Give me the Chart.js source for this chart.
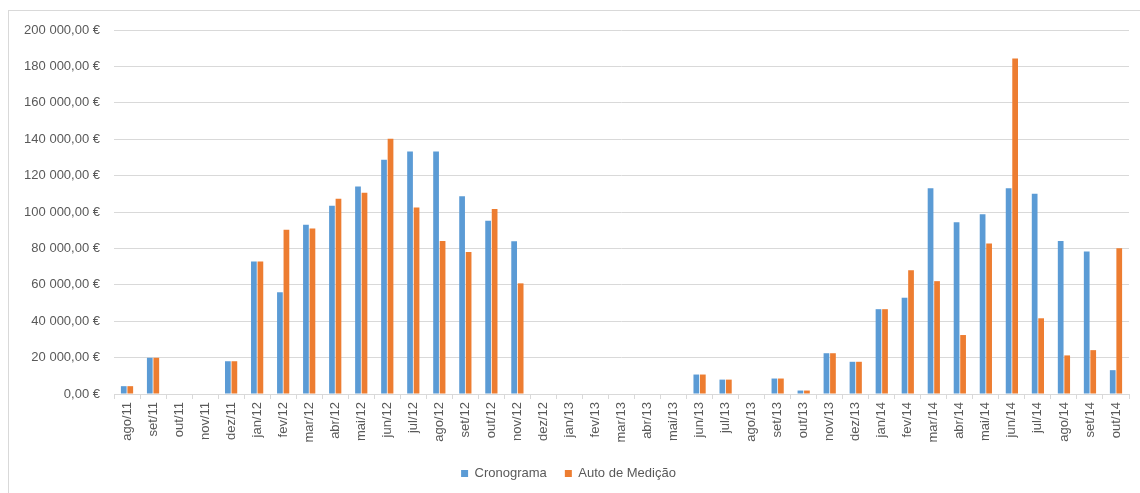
<!DOCTYPE html>
<html>
<head>
<meta charset="utf-8">
<script src="https://cdn.jsdelivr.net/npm/chart.js@4/dist/chart.umd.min.js"></script>
<style>
  html,body{margin:0;padding:0;background:#fff;overflow:hidden}
  #frame{position:absolute;left:8px;top:10px;width:1200px;height:600px;border:1px solid #d9d9d9;box-sizing:border-box}
  #wrap{position:absolute;left:0;top:0;width:1140px;height:493px}
</style>
</head>
<body>
<div id="frame"></div>
<div id="wrap"><canvas id="c" width="1140" height="493"></canvas></div>
<script>
// months ago/11 .. out/14
const months=["ago/11","set/11","out/11","nov/11","dez/11",
  "jan/12","fev/12","mar/12","abr/12","mai/12","jun/12","jul/12","ago/12","set/12","out/12","nov/12","dez/12",
  "jan/13","fev/13","mar/13","abr/13","mai/13","jun/13","jul/13","ago/13","set/13","out/13","nov/13","dez/13",
  "jan/14","fev/14","mar/14","abr/14","mai/14","jun/14","jul/14","ago/14","set/14","out/14"];
const cronograma=[4300,19900,0,0,18000,
  72800,55900,93000,103400,114000,128700,133300,133300,108700,95200,83900,0,
  0,0,0,0,0,10700,7900,0,8500,1900,22400,17700,
  46600,52900,113100,94400,98700,113100,110000,84100,78300,13100];
const autoMedicao=[4300,19900,0,0,18000,
  72800,90200,90900,107300,110600,140300,102500,84100,78000,101600,60800,0,
  0,0,0,0,0,10700,7900,0,8500,1900,22400,17700,
  46600,68000,62000,32400,82700,184300,41600,21200,24100,80100];
const yTicks=[0,20000,40000,60000,80000,100000,120000,140000,160000,180000,200000];

const BLUE="#5B9BD5", ORANGE="#ED7D31", TXT="#595959", GRID="#d9d9d9";
const FONT="'Liberation Sans', Arial, sans-serif";

function euro(v){
  const s=Math.round(v).toString().replace(/\B(?=(\d{3})+(?!\d))/g," ");
  return s+",00 €";
}

new Chart(document.getElementById("c").getContext("2d"),{
  type:"bar",
  data:{labels:months,datasets:[
    {label:"Cronograma",data:cronograma,backgroundColor:BLUE,categoryPercentage:0.5,barPercentage:0.88},
    {label:"Auto de Medição",data:autoMedicao,backgroundColor:ORANGE,categoryPercentage:0.5,barPercentage:0.88}
  ]},
  options:{
    animation:false,responsive:false,maintainAspectRatio:false,
    layout:{padding:{left:8,right:11,top:30,bottom:3}},
    plugins:{
      tooltip:{enabled:false},
      legend:{position:"bottom",
        labels:{boxWidth:7,boxHeight:7,padding:18,color:TXT,font:{family:FONT,size:13}}}
    },
    scales:{
      x:{
        grid:{display:true,drawOnChartArea:false,drawTicks:true,tickLength:5,color:GRID,offset:true},
        border:{display:true,color:GRID},
        ticks:{color:TXT,font:{family:FONT,size:13},maxRotation:90,minRotation:90,autoSkip:false,padding:3},
        afterFit:(s)=>{s.height=55;}
      },
      y:{
        min:0,max:200000,
        afterBuildTicks:(s)=>{s.ticks=yTicks.map(v=>({value:v}));},
        grid:{color:GRID,drawTicks:false},
        border:{display:false},
        ticks:{color:TXT,font:{family:FONT,size:13},padding:14,callback:(v)=>euro(v)},
        afterFit:(s)=>{s.width=106;}
      }
    }
  }
});
</script>
</body>
</html>
